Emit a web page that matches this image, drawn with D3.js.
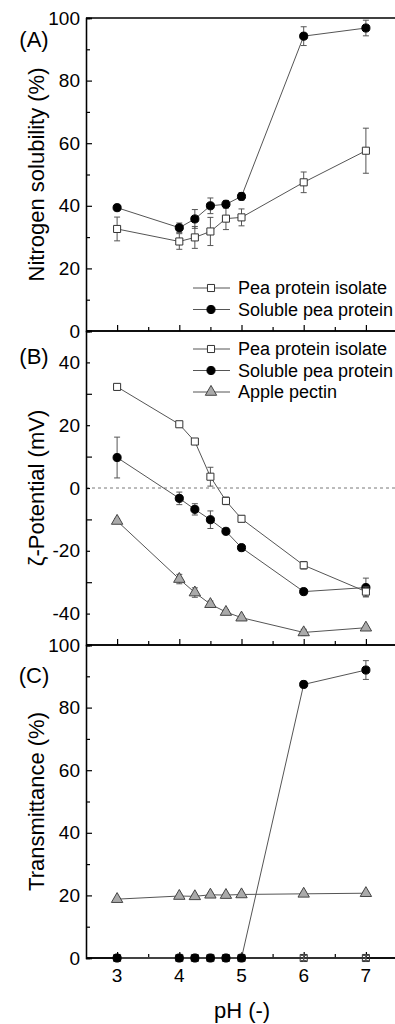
<!DOCTYPE html>
<html lang="en">
  <head>
    <meta charset="UTF-8" />
    <script src="https://d3js.org/d3.v7.min.js"></script>
    <title>pH dependence</title>
    <style>
      body { margin: 0; background: #fff; }
      text { font-family: 'Liberation Sans', Arial, sans-serif; fill: #000; }
    </style>
  </head>
  <body>
    <div id="chart"></div>
    <script>
      // pH values shared by all panels
      const ph = [3, 4, 4.25, 4.5, 4.75, 5, 6, 7]
      const phTicks = [3, 4, 5, 6, 7]

      // (A) nitrogen solubility (%)
      const solPPI = [32.6, 28.6, 29.9, 31.8, 35.9, 36.3, 47.5, 57.6]
      const solPPIErr = [3.8, 2.5, 3.5, 4.5, 3.5, 2.7, 3.3, 7.2]
      const solSPP = [39.4, 33.0, 35.8, 40.0, 40.5, 43.0, 94.2, 96.8]
      const solSPPErr = [0.6, 1.5, 3, 2.5, 1.2, 1.2, 3, 2.5]

      // (B) zeta potential (mV)
      const zetaPPI = [32.2, 20.3, 14.8, 3.6, -4.1, -9.8, -24.6, -33]
      const zetaPPIErr = [1, 0.8, 0.8, 3, 1.2, 1, 1.2, 1.5]
      const zetaSPP = [9.7, -3.3, -6.8, -10.1, -13.8, -19, -33, -31.7]
      const zetaSPPErr = [6.5, 2, 1.8, 2.8, 0.8, 1, 1, 3]
      const zetaPectin = [-10.5, -29, -33.3, -37, -39.5, -41.3, -46, -44.5]
      const zetaPectinErr = [0.8, 1.5, 1.5, 1, 0.8, 0.5, 1, 0.5]

      // (C) transmittance (%)
      const transPPI = [0, 0, 0, 0, 0, 0, 0, 0]
      const transPPIErr = [0, 0, 0, 0, 0, 0, 0.8, 0.8]
      const transSPP = [0, 0, 0, 0, 0, 0, 87.4, 92]
      const transSPPErr = [0, 0, 0, 0, 0, 0, 1, 3]
      const transPectin = [18.8, 19.8, 19.7, 20.2, 20.1, 20.3, 20.5, 20.7]
      const transPectinErr = [0.5, 0.5, 0.5, 0.5, 0.5, 0.5, 0.5, 0.5]

      const width = 395, height = 1024
      const left = 86

      const svg = d3.select('#chart').append('svg')
        .attr('width', width)
        .attr('height', height)

      const x = d3.scaleLinear().domain([2.5, 7.5]).range([left, 397])

      // marker styles
      const styles = {
        ppi: { type: d3.symbolSquare, size: 50, fill: '#fff', stroke: '#333' },
        spp: { type: d3.symbolCircle, size: 52, fill: '#000', stroke: '#000' },
        pectin: { type: d3.symbolTriangle, size: 56, fill: '#aaa', stroke: '#444' }
      }

      const panels = [
        {
          tag: '(A)', tagY: 39, label: 'Nitrogen solubility (%)',
          top: 18, bottom: 331, domain: [0, 100], labels: [0, 20, 40, 60, 80, 100],
          series: [
            { key: 'ppi', name: 'Pea protein isolate', v: solPPI, e: solPPIErr },
            { key: 'spp', name: 'Soluble pea protein', v: solSPP, e: solSPPErr }
          ],
          legendY: 288
        },
        {
          tag: '(B)', tagY: 356, label: 'ζ-Potential (mV)',
          top: 331, bottom: 645, domain: [-50, 50], labels: [-40, -20, 0, 20, 40],
          series: [
            { key: 'pectin', name: 'Apple pectin', v: zetaPectin, e: zetaPectinErr },
            { key: 'spp', name: 'Soluble pea protein', v: zetaSPP, e: zetaSPPErr },
            { key: 'ppi', name: 'Pea protein isolate', v: zetaPPI, e: zetaPPIErr }
          ],
          legendOrder: ['ppi', 'spp', 'pectin'],
          legendY: 349,
          zero: true
        },
        {
          tag: '(C)', tagY: 675, label: 'Transmittance (%)',
          top: 645, bottom: 958, domain: [0, 100], labels: [0, 20, 40, 60, 80, 100],
          series: [
            { key: 'pectin', name: 'Apple pectin', v: transPectin, e: transPectinErr },
            { key: 'ppi', name: 'Pea protein isolate', v: transPPI, e: transPPIErr, hollow: true },
            { key: 'spp', name: 'Soluble pea protein', v: transSPP, e: transSPPErr }
          ]
        }
      ]

      panels.forEach((p, i) => {
        const y = d3.scaleLinear().domain(p.domain).range([p.bottom, p.top])
        const g = svg.append('g')

        if (p.zero) {
          g.append('line')
            .attr('x1', left).attr('x2', width)
            .attr('y1', y(0)).attr('y2', y(0))
            .attr('stroke', '#555')
            .attr('stroke-width', 0.8)
            .attr('stroke-dasharray', '3,3')
        }

        // left axis, ticks pointing inward
        const yMajor = d3.axisRight(y).tickValues(d3.range(p.domain[0], p.domain[1] + 1, 20)).tickSize(6).tickFormat('')
        const yMinor = d3.axisRight(y).tickValues(d3.range(p.domain[0] + 10, p.domain[1], 20)).tickSize(4).tickFormat('')
        const ya = g.append('g').attr('transform', `translate(${left},0)`)
        ya.call(yMajor)
        ya.append('g').call(yMinor)
        ya.selectAll('.domain').attr('stroke-width', 1.3)
        ya.selectAll('line').attr('stroke-width', 1.2)

        g.selectAll('.ylab')
          .data(p.labels)
          .join('text')
          .attr('x', 80)
          .attr('y', d => y(d))
          .attr('text-anchor', 'end')
          .attr('dominant-baseline', 'central')
          .style('font-size', '19px')
          .text(d => d)

        // bottom axis, ticks pointing up
        const xMajor = d3.axisTop(x).tickValues(phTicks).tickSize(6).tickFormat('')
        const xMinor = d3.axisTop(x).tickValues([3.5, 4.5, 5.5, 6.5]).tickSize(4).tickFormat('')
        const xa = g.append('g').attr('transform', `translate(0,${p.bottom})`)
        xa.call(xMajor)
        xa.append('g').call(xMinor)
        xa.selectAll('.domain').attr('d', `M${left},0H${width}`).attr('stroke-width', 1.3)
        xa.selectAll('line').attr('stroke-width', 1.2)

        if (i === 0) {
          g.append('line')
            .attr('x1', left).attr('x2', width)
            .attr('y1', p.top).attr('y2', p.top)
            .attr('stroke', '#000')
            .attr('stroke-width', 1.3)
        }

        // panel tag and y title
        g.append('text')
          .attr('x', 34).attr('y', p.tagY)
          .attr('text-anchor', 'middle')
          .attr('dominant-baseline', 'central')
          .style('font-size', '22px')
          .text(p.tag)

        g.append('text')
          .attr('transform', `translate(36,${(p.top + p.bottom) / 2}) rotate(-90)`)
          .attr('text-anchor', 'middle')
          .attr('dominant-baseline', 'central')
          .style('font-size', '22px')
          .text(p.label)

        // series
        p.series.forEach(s => {
          const st = styles[s.key]
          const pts = ph.map((d, j) => ({ x: d, v: s.v[j], e: s.e[j] }))
          const sg = g.append('g')

          sg.append('path')
            .datum(pts)
            .attr('d', d3.line().x(d => x(d.x)).y(d => y(d.v)))
            .attr('fill', 'none')
            .attr('stroke', '#555')
            .attr('stroke-width', 1)

          const eb = sg.selectAll('.eb').data(pts.filter(d => d.e > 0)).join('g')
          eb.append('line')
            .attr('x1', d => x(d.x)).attr('x2', d => x(d.x))
            .attr('y1', d => y(d.v - d.e)).attr('y2', d => y(d.v + d.e))
            .attr('stroke', '#555')
          eb.selectAll('.cap')
            .data(d => [d.v - d.e, d.v + d.e].map(v => ({ x: d.x, v })))
            .join('line')
            .attr('x1', d => x(d.x) - 3).attr('x2', d => x(d.x) + 3)
            .attr('y1', d => y(d.v)).attr('y2', d => y(d.v))
            .attr('stroke', '#555')

          sg.selectAll('.pt')
            .data(pts)
            .join('path')
            .attr('transform', d => `translate(${x(d.x)},${y(d.v)})`)
            .attr('d', d3.symbol().type(st.type).size(st.size))
            .attr('fill', s.hollow ? 'none' : st.fill)
            .attr('stroke', st.stroke)
            .attr('stroke-width', 1)

          if (s.hollow) {
            sg.selectAll('.ebo')
              .data(pts.filter(d => d.e > 0))
              .join('line')
              .attr('x1', d => x(d.x)).attr('x2', d => x(d.x))
              .attr('y1', d => y(d.v) - 4).attr('y2', d => y(d.v) + 4)
              .attr('stroke', '#555')
          }
        })

        // legend
        if (p.legendY) {
          const order = p.legendOrder || p.series.map(s => s.key)
          order.forEach((k, j) => {
            const s = p.series.find(d => d.key === k)
            const st = styles[k]
            const ly = p.legendY + j * 21.5
            g.append('line')
              .attr('x1', 193).attr('x2', 230)
              .attr('y1', ly).attr('y2', ly)
              .attr('stroke', '#555')
            g.append('path')
              .attr('transform', `translate(211,${ly})`)
              .attr('d', d3.symbol().type(st.type).size(st.size))
              .attr('fill', st.fill)
              .attr('stroke', st.stroke)
            g.append('text')
              .attr('x', 238).attr('y', ly)
              .attr('dominant-baseline', 'central')
              .style('font-size', '18px')
              .text(s.name)
          })
        }
      })

      // x tick labels and title under panel C
      svg.selectAll('.xlab')
        .data(phTicks)
        .join('text')
        .attr('x', d => x(d))
        .attr('y', 975)
        .attr('text-anchor', 'middle')
        .attr('dominant-baseline', 'central')
        .style('font-size', '19px')
        .text(d => d)

      svg.append('text')
        .attr('x', 242).attr('y', 1010)
        .attr('text-anchor', 'middle')
        .attr('dominant-baseline', 'central')
        .style('font-size', '22px')
        .text('pH (-)')
    </script>
  </body>
</html>
